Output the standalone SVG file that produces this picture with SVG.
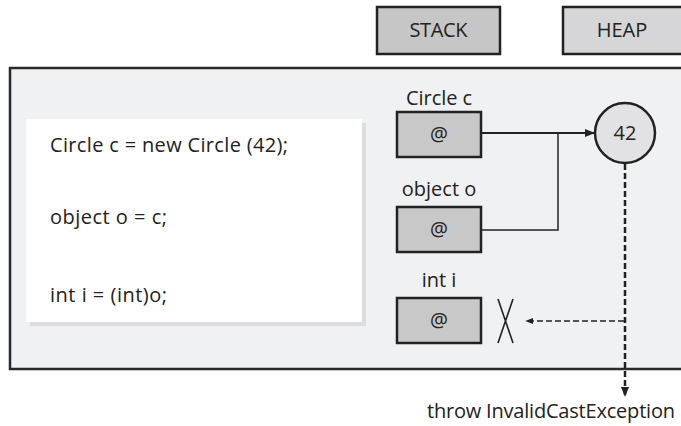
<svg xmlns="http://www.w3.org/2000/svg" width="681" height="426" viewBox="0 0 681 426">
<defs>
<style>
text{font-family:"Open Sans","Noto Sans","Liberation Sans",sans-serif;fill:#222;}
.box{stroke:#222;stroke-width:2.5;}
.code{font-size:20px;}
.lbl{font-size:20px;text-anchor:middle;}
</style>
<marker id="ah" viewBox="0 0 10 10" refX="9" refY="5" markerWidth="10" markerHeight="10" markerUnits="userSpaceOnUse" orient="auto">
<path d="M0,1 L10,5 L0,9 Z" fill="#222"/>
</marker>
<marker id="ah2" viewBox="0 0 10 10" refX="9" refY="5" markerWidth="8" markerHeight="8" markerUnits="userSpaceOnUse" orient="auto">
<path d="M0,1 L10,5 L0,9 Z" fill="#222"/>
</marker>
</defs>
<rect width="681" height="426" fill="#fff"/>
<g id="stack-header"><rect class="box" x="377" y="7" width="123" height="47" fill="#c6c6c6"/><text class="lbl" x="438.5" y="37" textLength="58">STACK</text></g>
<g id="heap-header"><rect class="box" x="563" y="7" width="130" height="47" fill="#d6d6d8"/><text class="lbl" x="622" y="37">HEAP</text></g>
<g id="panel"><rect x="10" y="68" width="690" height="301" fill="#f0f1f3" stroke="#2a2a2a" stroke-width="2.5"/></g>
<g id="code">
<rect x="30" y="123" width="336" height="203" fill="#dcdcdf"/>
<rect x="26" y="119" width="336" height="203" fill="#fff"/>
<text class="code" x="50" y="152" textLength="238">Circle c = new Circle (42);</text>
<text class="code" x="50" y="224" textLength="117">object o = c;</text>
<text class="code" x="50" y="302" textLength="117">int i = (int)o;</text>
</g>
<g id="slot-c"><text class="lbl" x="439" y="105" textLength="66">Circle c</text><rect class="box" x="397" y="112" width="84" height="45" fill="#c8c8c8"/><text class="lbl" x="439" y="141">@</text></g>
<g id="slot-o"><text class="lbl" x="439" y="196">object o</text><rect class="box" x="397" y="207" width="84" height="45" fill="#c8c8c8"/><text class="lbl" x="439" y="236">@</text></g>
<g id="slot-i"><text class="lbl" x="439" y="287">int i</text><rect class="box" x="397" y="298" width="84" height="45" fill="#c8c8c8"/><text class="lbl" x="439" y="327">@</text></g>
<g id="obj-42"><circle cx="625" cy="133" r="30" fill="#e2e2e4" stroke="#222" stroke-width="2.5"/><text class="lbl" x="625" y="140">42</text></g>
<g id="cross"><path d="M498,299 L513,343 M513,299 L498,343" stroke="#222" stroke-width="1.6" fill="none"/></g>
<g id="connectors" fill="none" stroke="#222">
<path d="M482,133 L594,133" stroke-width="2.2" marker-end="url(#ah)"/>
<path d="M482,230 L558,230 L558,133" stroke-width="1.5"/>
<path d="M625,164 L625,396" stroke-width="2.5" stroke-dasharray="6,3" marker-end="url(#ah)"/>
<path d="M624,321 L526,321" stroke-width="1.5" stroke-dasharray="6,3" marker-end="url(#ah2)"/>
</g>
<text id="exc" class="code" x="427" y="418" textLength="248">throw InvalidCastException</text>
</svg>
